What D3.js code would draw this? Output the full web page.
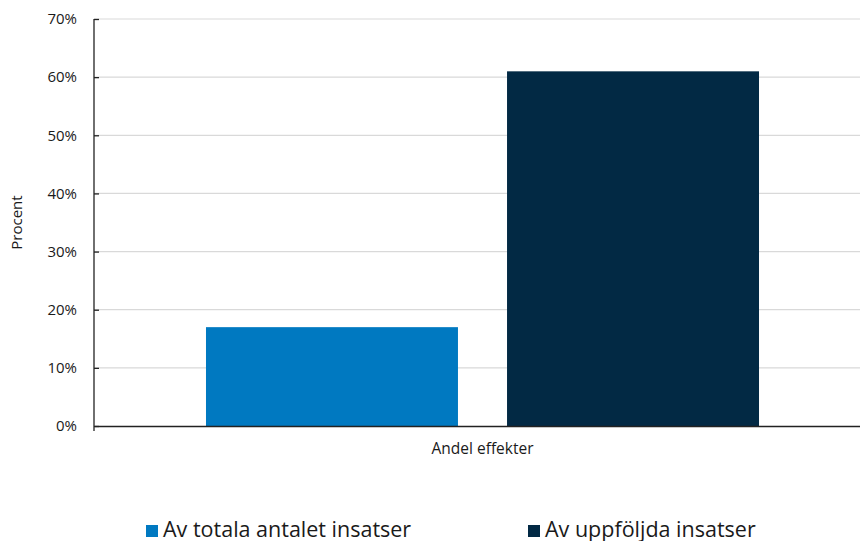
<!DOCTYPE html>
<html><head><meta charset="utf-8">
<script src="https://cdn.jsdelivr.net/npm/d3@7"></script>
<style>body{margin:0;background:#fff}svg{display:block;font-family:"Open Sans",sans-serif}</style>
</head><body><svg id="c" width="860" height="541"></svg>
<script>
const categories = ["Andel effekter"];
const seriesNames = ["Av totala antalet insatser", "Av uppföljda insatser"];
const seriesValues = [[0.17], [0.61]];
const seriesColors = ["#0079C1", "#022944"];
const yTicks = [0, 0.1, 0.2, 0.3, 0.4, 0.5, 0.6, 0.7];
const yLabel = "Procent";

const svg = d3.select("#c");
const L = 94, R = 871, T = 19, B = 426;
const y = d3.scaleLinear().domain([0, 0.7]).range([B, T]);
const x0 = d3.scaleBand().domain(categories).range([L, R]).paddingInner(0).paddingOuter(0.2025);
const x1 = d3.scaleBand().domain(seriesNames).range([0, x0.bandwidth()]).paddingInner(0.163).paddingOuter(0);

// gridlines
svg.append("g").selectAll("line").data(yTicks.slice(1)).join("line")
  .attr("x1", L).attr("x2", R).attr("y1", d => y(d)).attr("y2", d => y(d))
  .attr("stroke", "#d9d9d9").attr("stroke-width", 1.2);

// bars
categories.forEach((c, ci) => {
  svg.append("g").selectAll("rect").data(seriesNames).join("rect")
    .attr("x", s => x0(c) + x1(s))
    .attr("width", x1.bandwidth())
    .attr("y", (s, i) => y(seriesValues[i][ci]))
    .attr("height", (s, i) => B - y(seriesValues[i][ci]))
    .attr("fill", (s, i) => seriesColors[i]);
});

// y axis
const yAxis = svg.append("g").attr("transform", `translate(${L},0)`)
  .call(d3.axisRight(y).tickValues(yTicks).tickSize(5).tickFormat(d3.format(".0%")));
yAxis.select(".domain").remove();
yAxis.selectAll(".tick line").attr("stroke", "#222").attr("stroke-width", 1.3);
yAxis.selectAll(".tick text").attr("x", -17).attr("text-anchor", "end")
  .attr("font-size", 15).attr("fill", "#1a1a1a").attr("font-family", "Open Sans");
svg.append("line").attr("x1", L).attr("x2", L).attr("y1", T).attr("y2", B + 5)
  .attr("stroke", "#222").attr("stroke-width", 1.3);

// x axis
const xAxis = svg.append("g").attr("transform", `translate(0,${B})`)
  .call(d3.axisBottom(x0).tickSize(0));
xAxis.select(".domain").attr("stroke", "#222").attr("stroke-width", 1.5);
xAxis.selectAll(".tick text").attr("dy", 0).attr("y", 28)
  .attr("font-size", 15.5).attr("fill", "#1a1a1a").attr("font-family", "Open Sans");

// y label
svg.append("text").attr("transform", `translate(22,${(T + B) / 2}) rotate(-90)`)
  .attr("text-anchor", "middle").attr("font-size", 15).attr("fill", "#1a1a1a").text(yLabel);

// legend
const legendX = [146, 528];
const lg = svg.append("g").selectAll("g").data(seriesNames).join("g")
  .attr("transform", (d, i) => `translate(${legendX[i]},525)`);
lg.append("rect").attr("width", 12).attr("height", 12).attr("fill", (d, i) => seriesColors[i]);
lg.append("text").attr("x", 17).attr("y", 12).attr("font-size", 21.5).attr("fill", "#1a1a1a").text(d => d);
</script></body></html>
